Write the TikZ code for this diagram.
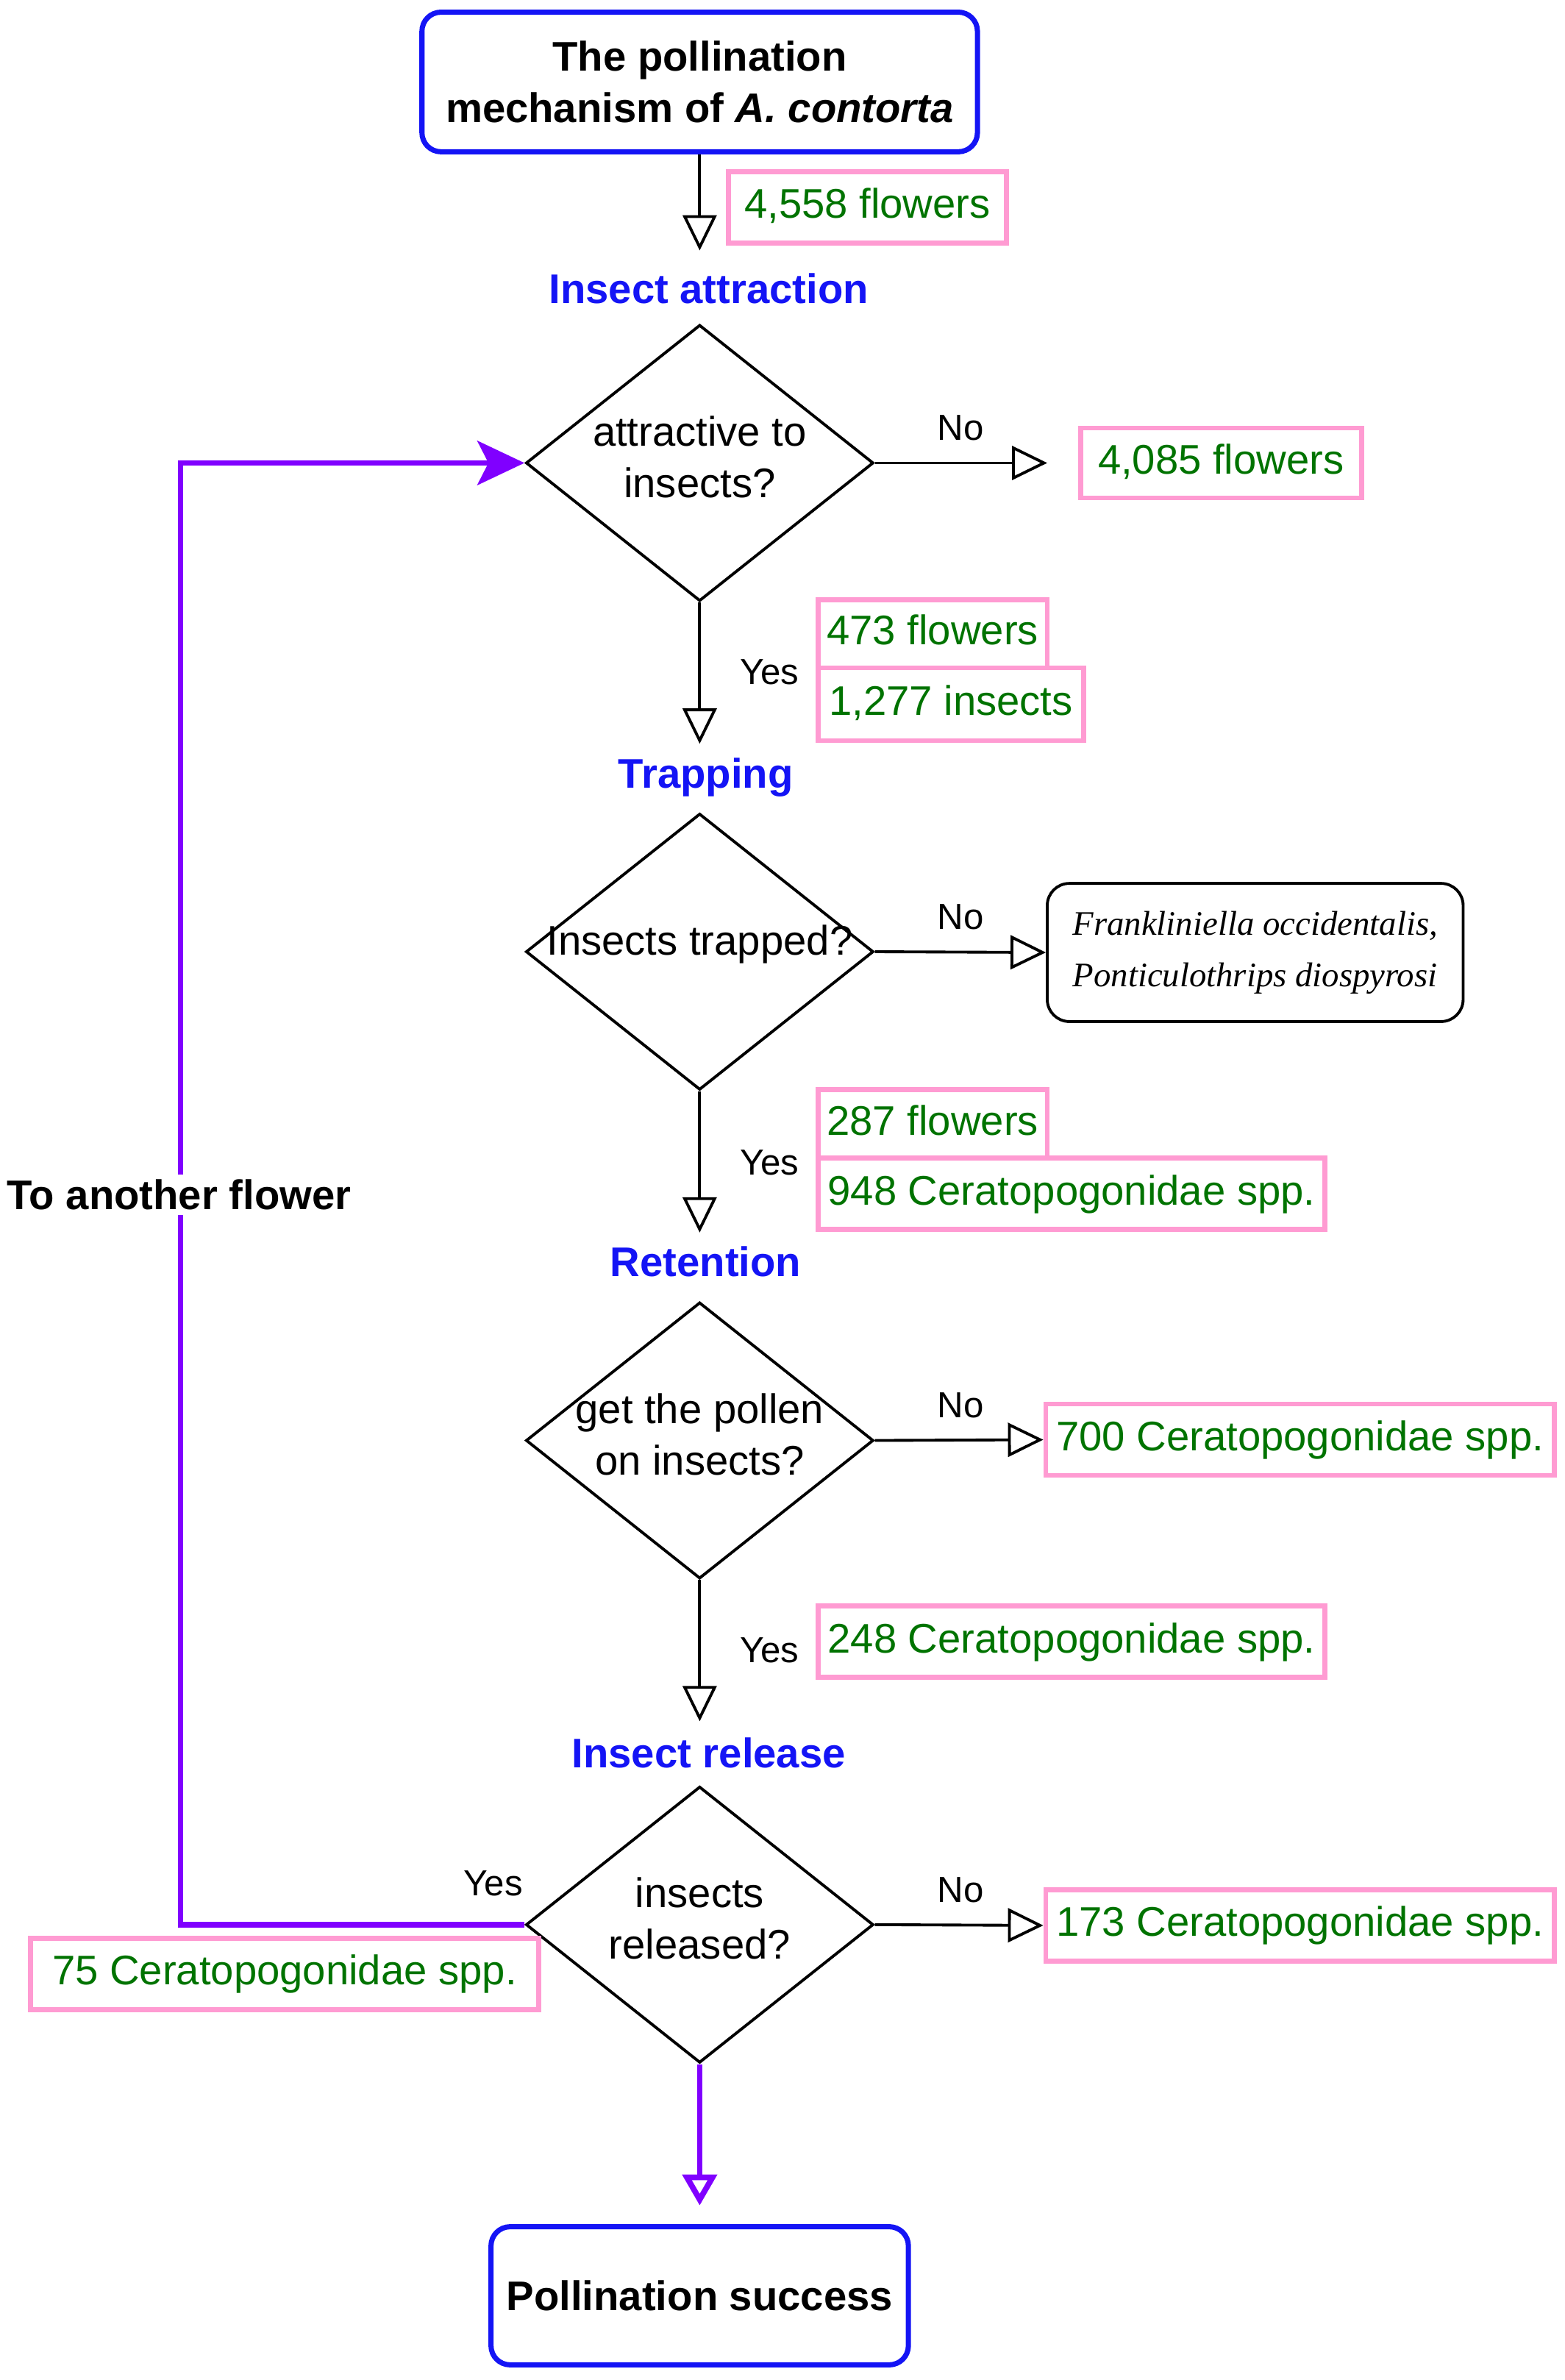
\documentclass[tikz,border=0pt]{standalone}
\usepackage{fontspec}
\setmainfont{Liberation Sans}
\newfontfamily\tnr{Liberation Serif}
\usetikzlibrary{arrows.meta,shapes.geometric}
\newdimen\ux \ux=0.02063cm
\definecolor{bluec}{RGB}{20,20,245}
\definecolor{greenc}{RGB}{0,115,0}
\definecolor{pinkc}{RGB}{255,155,210}
\definecolor{purplec}{RGB}{128,0,255}
\tikzset{
 mainbox/.style={draw=bluec, line width=2pt, rounded corners=0.26cm, align=center, font=\bfseries\fontsize{16}{20}\selectfont, inner sep=0pt},
 decision/.style={draw, diamond, line width=1.1pt, inner sep=0pt, minimum width=229\ux, minimum height=182\ux},
 dtext/.style={align=center, font=\fontsize{16}{20}\selectfont, inner sep=0pt},
 countbox/.style={draw=pinkc, line width=1.9pt, text=greenc, font=\fontsize{16}{20}\selectfont, inner sep=0pt, text height=0.40cm, text depth=0.1cm, minimum height=47\ux},
 stage/.style={text=bluec, font=\bfseries\fontsize{16}{20}\selectfont, inner sep=0pt},
 yn/.style={font=\fontsize{14}{17}\selectfont, inner sep=0pt},
 flow/.style={line width=1.1pt, -{Triangle[open,length=0.48cm,width=0.46cm]}},
 loopline/.style={draw=purplec, line width=2.2pt},
}
\begin{document}
\begin{tikzpicture}[x=0.02063cm,y=-0.02063cm]
\useasboundingbox (0,0) rectangle (1031,1568);

% title
\node[mainbox, minimum width=366\ux, minimum height=92\ux] (top) at (461,54) {The pollination\\mechanism of \textit{A. contorta}};
\node[countbox, minimum width=183\ux] (c4558) at (571.5,136.5) {4,558 flowers};

% stage 1
\node[stage] (s1) at (467,190) {Insect attraction};
\node[decision] (d1) at (461,305) {};
\node[dtext] (t1) at (461,301) {attractive to\\insects?};
\node[yn] (n1) at (633,282) {No};
\node[countbox, minimum width=185\ux, minimum height=46\ux] (c4085) at (804.5,305) {4,085 flowers};
\node[yn] (y1) at (507,443) {Yes};
\node[countbox, minimum width=151\ux, minimum height=45\ux] (c473) at (614.5,417.5) {473 flowers};
\node[countbox, minimum width=175\ux, minimum height=48\ux] (c1277) at (626.5,464) {1,277 insects};

% stage 2
\node[stage] (s2) at (465,512) {Trapping};
\node[decision] (d2) at (461,627) {};
\node[dtext] (t2) at (461,622) {Insects trapped?};
\node[yn] (n2) at (633,604) {No};
\node[draw, line width=1.1pt, rounded corners=0.3cm, minimum width=274\ux, minimum height=91\ux, align=left, inner sep=0pt, font=\tnr\itshape\fontsize{13.3}{20}\selectfont] (thr) at (827,627.5) {\raisebox{-0.1cm}{Frankliniella occidentalis,}\\\raisebox{-0.1cm}{Ponticulothrips diospyrosi}};
\node[yn] (y2) at (507,766) {Yes};
\node[countbox, minimum width=151\ux, minimum height=45\ux] (c287) at (614.5,740.5) {287 flowers};
\node[countbox, minimum width=334\ux] (c948) at (706,786.5) {948 Ceratopogonidae spp.};

% stage 3
\node[stage] (s3) at (465,831) {Retention};
\node[decision] (d3) at (461,949) {};
\node[dtext] (t3) at (461,945) {get the pollen\\on insects?};
\node[yn] (n3) at (633,926) {No};
\node[countbox, minimum width=335\ux] (c700) at (856.5,948.5) {700 Ceratopogonidae spp.};
\node[yn] (y3) at (507,1087) {Yes};
\node[countbox, minimum width=334\ux] (c248) at (706,1081.5) {248 Ceratopogonidae spp.};

% stage 4
\node[stage] (s4) at (467,1155) {Insect release};
\node[decision] (d4) at (461,1268) {};
\node[dtext] (t4) at (461,1264) {insects\\released?};
\node[yn] (n4) at (633,1245) {No};
\node[countbox, minimum width=335\ux] (c173) at (856.5,1268.5) {173 Ceratopogonidae spp.};
\node[yn] (y4) at (325,1241) {Yes};
\node[countbox, minimum width=335\ux] (c75) at (187.5,1300.5) {75 Ceratopogonidae spp.};

% end
\node[mainbox, minimum width=275\ux, minimum height=91\ux] (succ) at (461,1512.5) {Pollination success};

% connectors
\coordinate (e0) at (461,165);
\coordinate (e1n) at (690,305);
\coordinate (e1y) at (461,490);
\coordinate (e2y) at (461,812);
\coordinate (e3y) at (461,1134);
\coordinate (e4y) at (461,1453);
\coordinate (lp) at (119,1268);
\draw[flow] (top.south) -- (e0);
\draw[flow] (d1.east) -- (e1n);
\draw[flow] (d1.south) -- (e1y);
\draw[flow] (d2.east) -- (thr.west);
\draw[flow] (d2.south) -- (e2y);
\draw[flow] (d3.east) -- (c700.west);
\draw[flow] (d3.south) -- (e3y);
\draw[flow] (d4.east) -- (c173.west);
\draw[loopline, -{Triangle[open,length=0.42cm,width=0.46cm]}] (d4.south) -- (e4y);
\draw[loopline, -{Stealth[length=0.64cm,width=0.6cm,inset=0.15cm]}] (d4.west) -- (lp) |- (d1.west);
\node[font=\bfseries\fontsize{16}{20}\selectfont, fill=white, inner sep=2pt] (back) at (118,787) {To another flower};
\end{tikzpicture}
\end{document}
